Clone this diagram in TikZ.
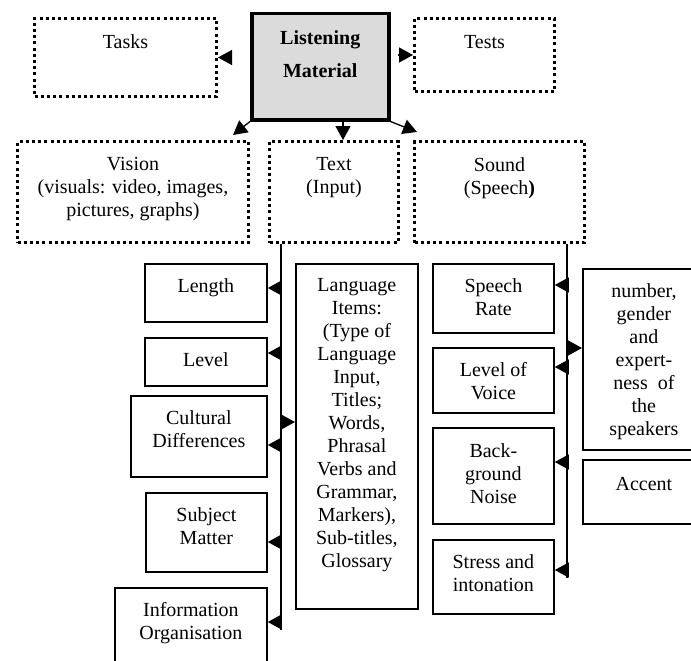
\documentclass[tikz,border=0pt]{standalone}
\usepackage{fontspec}
\setmainfont{Liberation Serif}
\usetikzlibrary{arrows.meta}

\begin{document}
\begin{tikzpicture}[x=1pt, y=-1pt,
    font=\fontsize{20}{23}\selectfont,
    dotbox/.style={draw, line width=3pt, dash pattern=on 3pt off 3.2pt,
        anchor=north west, inner sep=0pt},
    plainbox/.style={draw, line width=1.8pt, anchor=north west, inner sep=0pt},
    txt/.style={anchor=north, align=center, inner sep=0pt, yshift=-15pt},
    tip/.style={-{Triangle[length=14pt, width=15pt]}, line width=1.3pt}]

    \useasboundingbox (0,0) rectangle (691,661);
    \clip (0,0) rectangle (691,661);

    % Top row
    \node[dotbox, minimum width=182, minimum height=78,
        label={[txt, yshift=-2pt]north:Tasks}] (tasks) at (33,17) {};
    \node[draw, line width=3.5pt, fill=black!14, anchor=north west, inner sep=0pt,
        minimum width=137, minimum height=106,
        label={[txt, yshift=-3pt, font=\fontsize{20}{23}\selectfont\bfseries]north:Listening\\[10pt]Material}] (lm) at (250,12) {};
    \node[dotbox, minimum width=140, minimum height=73,
        label={[txt, yshift=-3pt]north:Tests}] (tests) at (413,17) {};

    % Second row
    \node[dotbox, minimum width=231, minimum height=101,
        label={[txt, yshift=-2pt]north:Vision\\(visuals: video, images,\\pictures, graphs)}] (vision) at (16,140) {};
    \node[dotbox, minimum width=129, minimum height=101,
        label={[txt, yshift=-2pt]north:Text\\(Input)}] (text) at (268,140) {};
    \node[dotbox, minimum width=170, minimum height=101,
        label={[txt, yshift=-2pt]north:Sound\\(Speech\textbf{)}}] (sound) at (413,140) {};

    % Arrows from the main box
    \draw[tip, shorten <=19pt] (lm.west |- tasks.east) -- (tasks.east);
    \draw[tip, shorten <=7pt] (lm.east |- tests.west) -- (tests.west);
    \coordinate (vtip) at (233,135);
    \coordinate (ttip) at (343,140);
    \coordinate (stip) at (417,132);
    \draw[tip] (lm.south west) -- (vtip);
    \draw[tip] (lm.south -| ttip) -- (ttip);
    \draw[tip] (lm.south east) -- (stip);

    % Text branch
    \node[plainbox, minimum width=122, minimum height=58, label={[txt]north:Length}] (length) at (144,263) {};
    \node[plainbox, minimum width=122, minimum height=48, label={[txt]north:Level}] (level) at (144,337) {};
    \node[plainbox, minimum width=136, minimum height=81, label={[txt]north:Cultural\\Differences}] (cult) at (130,395) {};
    \node[plainbox, minimum width=121, minimum height=79, label={[txt]north:Subject\\Matter}] (subj) at (145,492) {};
    \node[plainbox, minimum width=152, minimum height=85, label={[txt]north:Information\\Organisation}] (info) at (114,587) {};
    \node[plainbox, minimum width=122, minimum height=345,
        label={[txt]north:Language\\Items:\\(Type of\\Language\\Input,\\Titles;\\Words,\\Phrasal\\Verbs and\\Grammar,\\Markers),\\Sub-titles,\\Glossary}] (lang) at (295,263) {};

    \coordinate (tend) at (281,630);
    \draw[line width=1.3pt] (text.south -| tend) -- (tend);
    \foreach \b/\y in {length/288, level/353, cult/445, subj/542, info/622} {
        \draw[tip] (tend |- 0,\y) -- (\b.east |- 0,\y);
    }
    \draw[tip] (tend |- 0,422) -- (lang.west |- 0,422);

    % Sound branch
    \node[plainbox, minimum width=121, minimum height=69, label={[txt]north:Speech\\Rate}] (speech) at (432,263) {};
    \node[plainbox, minimum width=121, minimum height=65, label={[txt]north:Level of\\Voice}] (voice) at (432,347) {};
    \node[plainbox, minimum width=121, minimum height=96, label={[txt, yshift=-1pt]north:Back-\\ground\\Noise}] (noise) at (432,427) {};
    \node[plainbox, minimum width=121, minimum height=74, label={[txt]north:Stress and\\intonation}] (stress) at (432,539) {};
    \node[plainbox, minimum width=122, minimum height=181,
        label={[txt]north:number,\\gender\\and\\expert-\\ness~~of\\the\\speakers}] (number) at (582,268) {};
    \node[plainbox, minimum width=122, minimum height=64, label={[txt, yshift=-3pt]north:Accent}] (accent) at (582,459) {};

    \coordinate (send) at (567,578);
    \draw[line width=1.3pt] (sound.south -| send) -- (send);
    \foreach \b/\y in {speech/285, voice/367, noise/462, stress/570} {
        \draw[tip] (send |- 0,\y) -- (\b.east |- 0,\y);
    }
    \draw[tip] (send |- 0,348) -- (number.west |- 0,348);

\end{tikzpicture}
\end{document}
